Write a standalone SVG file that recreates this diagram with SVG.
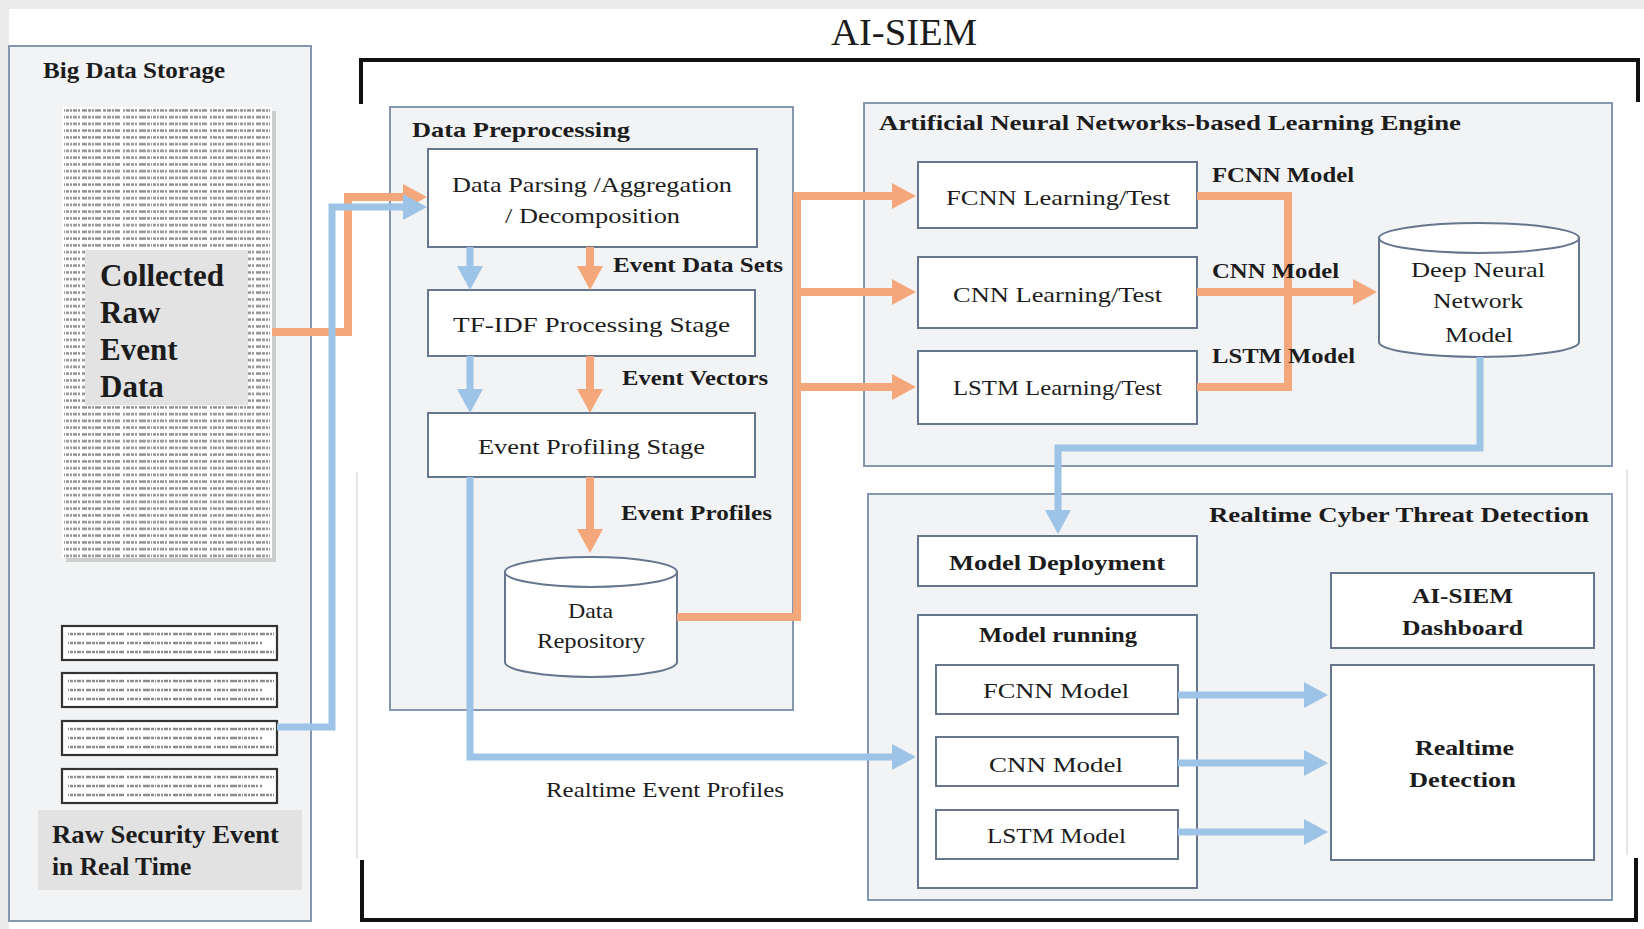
<svg xmlns="http://www.w3.org/2000/svg" width="1644" height="929" viewBox="0 0 1644 929">
<style>
.panel{fill:#f2f3f5;stroke:#8597b0;stroke-width:2}
.box{fill:#fff;stroke:#66768f;stroke-width:2}
.t{font-family:"Liberation Serif","Times New Roman",serif;fill:#1c1c1c}
.b{font-weight:bold}
.or{fill:none;stroke:#F4A77A;stroke-width:8}
.bl{fill:none;stroke:#9DC3E6;stroke-width:7}
.brk{fill:none;stroke:#111;stroke-width:4}
.faint{stroke:#dcdcdc;stroke-width:1.5}
.rt{fill:#fff;stroke:#333;stroke-width:2.2}
.log{stroke:#8c8c8c;stroke-width:2.4;stroke-dasharray:1 1 3 1 2 1 4 1 2 2 5 1 3 1 2 1 6 2 3 1 4 1 2 1 5 3 2 1 4 1 3 1 2 2 7 1 3 1}
</style>
<defs>
<marker id="ao" markerUnits="userSpaceOnUse" markerWidth="24" markerHeight="26" refX="4" refY="13" orient="auto"><path d="M0,0 L24,13 L0,26 Z" fill="#F4A77A"/></marker>
<marker id="ab" markerUnits="userSpaceOnUse" markerWidth="24" markerHeight="26" refX="4" refY="13" orient="auto"><path d="M0,0 L24,13 L0,26 Z" fill="#9DC3E6"/></marker>
<pattern id="logrows" patternUnits="userSpaceOnUse" x="62" y="107" width="210" height="6.75">
<line class="log" x1="2" y1="3.4" x2="208" y2="3.4"/>
</pattern>
<g id="rtlines">
<line class="log" x1="6" y1="8" x2="212" y2="8" stroke-width="2"/>
<line class="log" x1="6" y1="17" x2="200" y2="17" stroke-width="2"/>
<line class="log" x1="6" y1="26" x2="212" y2="26" stroke-width="2"/>
</g>
</defs>

<rect x="0" y="0" width="1644" height="929" fill="#ececec"/>
<rect x="9" y="9" width="1635" height="920" fill="#fff"/>
<line class="faint" x1="357" y1="472" x2="357" y2="858"/>
<line class="faint" x1="1627" y1="470" x2="1627" y2="855"/>

<g id="big-data-storage">
<rect class="panel" x="9" y="46" width="302" height="875"/>
<text class="t b" x="43" y="78" font-size="24" textLength="182" lengthAdjust="spacingAndGlyphs">Big Data Storage</text>
<rect x="66" y="111" width="210" height="451" fill="#bdbdbd" opacity="0.7"/>
<rect x="62" y="107" width="210" height="451" fill="#fff"/>
<rect x="62" y="107" width="210" height="451" fill="url(#logrows)"/>
<rect x="85" y="250" width="163" height="155" fill="#e3e3e3"/>
<text class="t b" x="100" y="286" font-size="31">Collected</text>
<text class="t b" x="100" y="323" font-size="31">Raw</text>
<text class="t b" x="100" y="360" font-size="31">Event</text>
<text class="t b" x="100" y="397" font-size="31">Data</text>
</g>

<g id="raw-security-event">
<rect class="rt" x="62" y="626" width="215" height="34"/>
<use href="#rtlines" x="62" y="626"/>
<rect class="rt" x="62" y="673" width="215" height="34"/>
<use href="#rtlines" x="62" y="673"/>
<rect class="rt" x="62" y="721" width="215" height="34"/>
<use href="#rtlines" x="62" y="721"/>
<rect class="rt" x="62" y="769" width="215" height="34"/>
<use href="#rtlines" x="62" y="769"/>
<rect x="38" y="810" width="264" height="80" fill="#e2e2e2"/>
<text class="t b" x="52" y="843" font-size="25.5" textLength="227" lengthAdjust="spacingAndGlyphs">Raw Security Event</text>
<text class="t b" x="52" y="875" font-size="25.5">in Real Time</text>
</g>

<g id="ai-siem">
<text class="t" x="831" y="45" font-size="37" textLength="146" lengthAdjust="spacingAndGlyphs">AI-SIEM</text>
<path class="brk" d="M361,104 V60 H1638 V102"/>
<path class="brk" d="M362,860 V920 H1636 V858"/>
</g>

<g id="data-preprocessing">
<rect class="panel" x="390" y="107" width="403" height="603"/>
<text class="t b" x="412" y="137" font-size="21" textLength="218" lengthAdjust="spacingAndGlyphs">Data Preprocessing</text>
</g>

<g id="data-parsing">
<rect class="box" x="428" y="149" width="329" height="98"/>
<text class="t" x="452" y="192" font-size="22" textLength="280" lengthAdjust="spacingAndGlyphs">Data Parsing /Aggregation</text>
<text class="t" x="505" y="223" font-size="22" textLength="175" lengthAdjust="spacingAndGlyphs">/ Decomposition</text>
</g>

<g id="tfidf">
<rect class="box" x="428" y="290" width="327" height="66"/>
<text class="t" x="453" y="332" font-size="22" textLength="277" lengthAdjust="spacingAndGlyphs">TF-IDF Processing Stage</text>
</g>

<g id="event-profiling">
<rect class="box" x="428" y="413" width="327" height="64"/>
<text class="t" x="478" y="454" font-size="22" textLength="227" lengthAdjust="spacingAndGlyphs">Event Profiling Stage</text>
</g>

<g id="data-repository">
<path d="M505,572 V662 A86,15 0 0 0 677,662 V572 Z" fill="#fff" stroke="#66768f" stroke-width="2"/>
<ellipse cx="591" cy="572" rx="86" ry="15" fill="#fff" stroke="#66768f" stroke-width="2"/>
<text class="t" x="568" y="618" font-size="22" textLength="45" lengthAdjust="spacingAndGlyphs">Data</text>
<text class="t" x="537" y="648" font-size="22" textLength="108" lengthAdjust="spacingAndGlyphs">Repository</text>
</g>

<g id="ann-engine">
<rect class="panel" x="864" y="103" width="748" height="363"/>
<text class="t b" x="879" y="130" font-size="21" textLength="582" lengthAdjust="spacingAndGlyphs">Artificial Neural Networks-based Learning Engine</text>
</g>

<g id="fcnn-learning">
<rect class="box" x="918" y="162" width="279" height="66"/>
<text class="t" x="946" y="205" font-size="22" textLength="224" lengthAdjust="spacingAndGlyphs">FCNN Learning/Test</text>
</g>
<g id="cnn-learning">
<rect class="box" x="918" y="257" width="279" height="71"/>
<text class="t" x="953" y="302" font-size="22" textLength="209" lengthAdjust="spacingAndGlyphs">CNN Learning/Test</text>
</g>
<g id="lstm-learning">
<rect class="box" x="918" y="351" width="279" height="73"/>
<text class="t" x="953" y="395" font-size="22" textLength="209" lengthAdjust="spacingAndGlyphs">LSTM Learning/Test</text>
</g>

<g id="dnn-model">
<path d="M1379,238 V342 A100,15 0 0 0 1579,342 V238 Z" fill="#fff" stroke="#66768f" stroke-width="2"/>
<ellipse cx="1479" cy="238" rx="100" ry="15" fill="#fff" stroke="#66768f" stroke-width="2"/>
<text class="t" x="1411" y="277" font-size="22" textLength="134" lengthAdjust="spacingAndGlyphs">Deep Neural</text>
<text class="t" x="1433" y="308" font-size="22" textLength="90" lengthAdjust="spacingAndGlyphs">Network</text>
<text class="t" x="1445" y="342" font-size="22" textLength="68" lengthAdjust="spacingAndGlyphs">Model</text>
</g>

<g id="realtime-detection-panel">
<rect class="panel" x="868" y="494" width="744" height="406"/>
<text class="t b" x="1209" y="522" font-size="21" textLength="380" lengthAdjust="spacingAndGlyphs">Realtime Cyber Threat Detection</text>
</g>

<g id="model-deployment">
<rect class="box" x="918" y="536" width="279" height="50"/>
<text class="t b" x="949" y="570" font-size="22" textLength="216" lengthAdjust="spacingAndGlyphs">Model Deployment</text>
</g>

<g id="model-running">
<rect class="box" x="918" y="615" width="279" height="273"/>
<text class="t b" x="979" y="642" font-size="21" textLength="158" lengthAdjust="spacingAndGlyphs">Model running</text>
</g>
<g id="fcnn-model">
<rect class="box" x="936" y="665" width="242" height="49"/>
<text class="t" x="983" y="698" font-size="22" textLength="146" lengthAdjust="spacingAndGlyphs">FCNN Model</text>
</g>
<g id="cnn-model">
<rect class="box" x="936" y="737" width="242" height="49"/>
<text class="t" x="989" y="772" font-size="22" textLength="134" lengthAdjust="spacingAndGlyphs">CNN Model</text>
</g>
<g id="lstm-model">
<rect class="box" x="936" y="810" width="242" height="49"/>
<text class="t" x="987" y="843" font-size="22" textLength="139" lengthAdjust="spacingAndGlyphs">LSTM Model</text>
</g>

<g id="dashboard">
<rect class="box" x="1331" y="573" width="263" height="75"/>
<text class="t b" x="1412" y="603" font-size="22" textLength="101" lengthAdjust="spacingAndGlyphs">AI-SIEM</text>
<text class="t b" x="1402" y="635" font-size="22" textLength="121" lengthAdjust="spacingAndGlyphs">Dashboard</text>
</g>

<g id="realtime-detection">
<rect class="box" x="1331" y="665" width="263" height="195"/>
<text class="t b" x="1415" y="755" font-size="22" textLength="99" lengthAdjust="spacingAndGlyphs">Realtime</text>
<text class="t b" x="1409" y="787" font-size="22" textLength="107" lengthAdjust="spacingAndGlyphs">Detection</text>
</g>

<g id="connectors">
<path class="or" d="M272,332 H348 V197 H407" marker-end="url(#ao)"/>
<path class="bl" d="M277,727 H332 V207 H407" marker-end="url(#ab)"/>
<path class="bl" d="M470,247 V270" marker-end="url(#ab)"/>
<path class="bl" d="M470,356 V393" marker-end="url(#ab)"/>
<path class="or" d="M590,247 V270" marker-end="url(#ao)"/>
<path class="or" d="M590,356 V393" marker-end="url(#ao)"/>
<path class="or" d="M590,477 V533" marker-end="url(#ao)"/>
<path class="bl" d="M470,477 V757 H896" marker-end="url(#ab)"/>
<path class="or" d="M677,617 H797 V196 H896" marker-end="url(#ao)"/>
<path class="or" d="M797,292 H896" marker-end="url(#ao)"/>
<path class="or" d="M797,387 H896" marker-end="url(#ao)"/>
<path class="or" d="M1197,196 H1288 V387 H1197"/>
<path class="or" d="M1197,292 H1357" marker-end="url(#ao)"/>
<path class="bl" d="M1480,357 V448 H1058 V514" marker-end="url(#ab)"/>
<path class="bl" d="M1178,695 H1308" marker-end="url(#ab)"/>
<path class="bl" d="M1178,763 H1308" marker-end="url(#ab)"/>
<path class="bl" d="M1178,832 H1308" marker-end="url(#ab)"/>
</g>

<g id="labels">
<text class="t b" x="613" y="272" font-size="21" textLength="170" lengthAdjust="spacingAndGlyphs">Event Data Sets</text>
<text class="t b" x="622" y="385" font-size="21" textLength="146" lengthAdjust="spacingAndGlyphs">Event Vectors</text>
<text class="t b" x="621" y="520" font-size="21" textLength="151" lengthAdjust="spacingAndGlyphs">Event Profiles</text>
<text class="t b" x="1212" y="182" font-size="22" textLength="142" lengthAdjust="spacingAndGlyphs">FCNN Model</text>
<text class="t b" x="1212" y="278" font-size="22" textLength="127" lengthAdjust="spacingAndGlyphs">CNN Model</text>
<text class="t b" x="1212" y="363" font-size="22" textLength="143" lengthAdjust="spacingAndGlyphs">LSTM Model</text>
<text class="t" x="546" y="797" font-size="22" textLength="238" lengthAdjust="spacingAndGlyphs">Realtime Event Profiles</text>
</g>
</svg>
